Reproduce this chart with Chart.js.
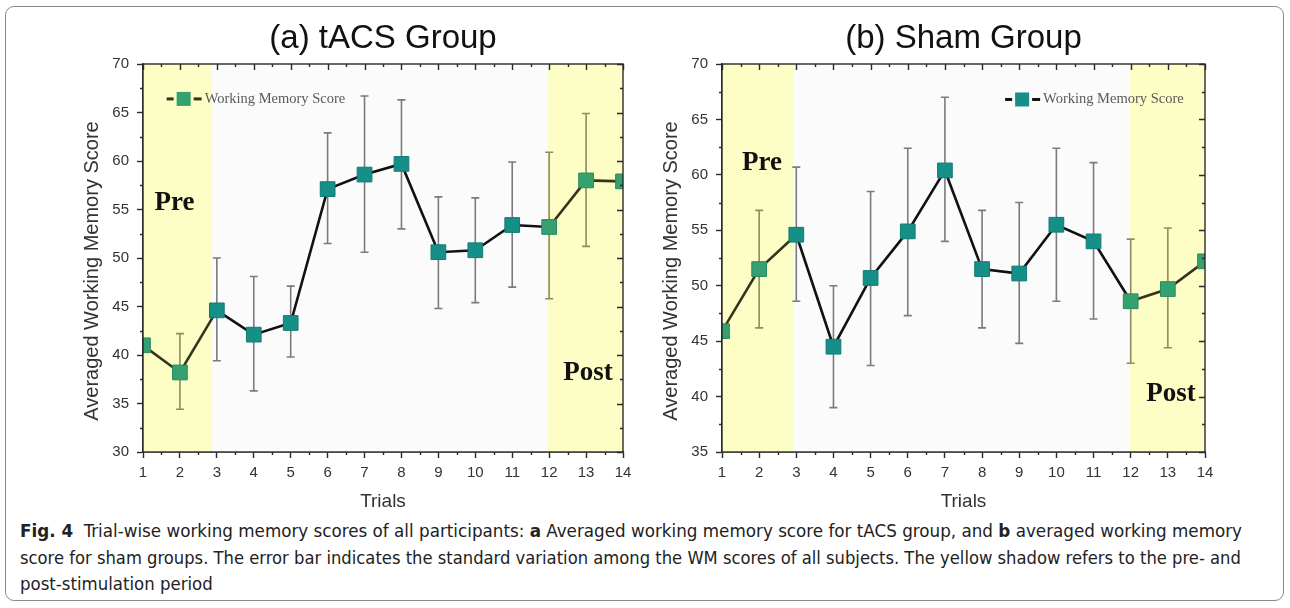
<!DOCTYPE html>
<html>
<head>
<meta charset="utf-8">
<script src="https://cdn.jsdelivr.net/npm/chart.js@4.4.0/dist/chart.umd.min.js"></script>
<style>
  body { margin:0; width:1290px; height:608px; overflow:hidden; background:#fff; position:relative; }
  .frame { position:absolute; left:5px; top:6px; width:1279px; height:595px; border:1px solid #8a8a8a; border-radius:9px; box-sizing:border-box; }
  canvas { position:absolute; top:0; }
  #chartA { left:0; }
  #chartB { left:645px; }
  .cap { position:absolute; left:20px; white-space:nowrap; font-family:"DejaVu Sans Condensed","Liberation Sans Narrow","DejaVu Sans",sans-serif;
         font-stretch:condensed; font-size:17.5px; line-height:20px; color:#222; transform-origin:0 50%; }
  .cap b { font-weight:bold; }
</style>
</head>
<body>
<div class="frame"></div>
<canvas id="chartA" width="645" height="520"></canvas>
<canvas id="chartB" width="645" height="520"></canvas>
<div class="cap" id="cap1" style="top:521px"><b>Fig. 4</b>&nbsp; Trial-wise working memory scores of all participants: <b>a</b> Averaged working memory score for tACS group, and <b>b</b> averaged working memory</div>
<div class="cap" id="cap2" style="top:548px">score for sham groups. The error bar indicates the standard variation among the WM scores of all subjects. The yellow shadow refers to the pre- and</div>
<div class="cap" id="cap3" style="top:574px">post-stimulation period</div>

<script>
// --- data
const trials = [1, 2, 3, 4, 5, 6, 7, 8, 9, 10, 11, 12, 13, 14];

const tacsMean  = [41.0, 38.2, 44.6, 42.1, 43.3, 57.1, 58.6, 59.7, 50.6, 50.8, 53.4, 53.2, 58.0, 57.9];
const tacsUpper = [null, 42.2, 50.0, 48.1, 47.1, 62.9, 66.7, 66.3, 56.3, 56.2, 59.9, 60.9, 64.9, null];
const tacsLower = [null, 34.4, 39.4, 36.3, 39.8, 51.5, 50.6, 53.0, 44.8, 45.4, 47.0, 45.8, 51.2, null];

const shamMean  = [45.9, 51.5, 54.6, 44.5, 50.7, 54.9, 60.4, 51.5, 51.1, 55.5, 54.0, 48.6, 49.7, 52.2];
const shamUpper = [null, 56.8, 60.7, 50.0, 58.5, 62.4, 67.0, 56.8, 57.5, 62.4, 61.1, 54.2, 55.2, null];
const shamLower = [null, 46.2, 48.6, 39.0, 42.8, 47.3, 54.0, 46.2, 44.8, 48.6, 47.0, 43.0, 44.4, null];

// pre / post stimulation periods (in trial units)
const tacsBands = [[1, 2.86], [11.95, 14]];
const shamBands = [[1, 2.93], [11.97, 14]];

const tacsYRange = [30, 70];
const shamYRange = [35, 70];
const yStep = 5;

const seriesLabel = 'Working Memory Score';

// --- colours
const TEAL = '#168f88', GREEN = '#35a070';
const LINE = '#111111', LINE_BAND = '#34341a';
const ERR = '#7b7b7b', ERR_BAND = '#8d8d5c';
const BAND = '#fdfdc6', PLOT_BG = '#fbfbfb', AXIS = '#2a2a2a';
const SANS = '"Liberation Sans", Arial, sans-serif';
const SERIF = '"Liberation Serif", "Times New Roman", serif';

function inBand(bands, x) { return bands.some(b => x >= b[0] && x <= b[1]); }

// --- plugin: background, shaded periods, error bars
const underlay = {
  id: 'underlay',
  beforeDatasetsDraw(chart, args, opts) {
    const { ctx, chartArea: a, scales: { x, y } } = chart;
    ctx.save();
    ctx.fillStyle = PLOT_BG;
    ctx.fillRect(a.left, a.top, a.width, a.height);
    ctx.fillStyle = BAND;
    opts.bands.forEach(b => {
      const x0 = x.getPixelForValue(b[0]), x1 = x.getPixelForValue(b[1]);
      ctx.fillRect(x0, a.top, x1 - x0, a.height);
    });
    ctx.lineWidth = 1.6;
    opts.upper.forEach((hi, i) => {
      const lo = opts.lower[i];
      if (hi == null || lo == null) return;
      const px = x.getPixelForValue(trials[i]);
      const py0 = y.getPixelForValue(hi), py1 = y.getPixelForValue(lo);
      ctx.strokeStyle = inBand(opts.bands, trials[i]) ? ERR_BAND : ERR;
      ctx.beginPath();
      ctx.moveTo(px, py0); ctx.lineTo(px, py1);
      ctx.moveTo(px - 4, py0); ctx.lineTo(px + 4, py0);
      ctx.moveTo(px - 4, py1); ctx.lineTo(px + 4, py1);
      ctx.stroke();
    });
    ctx.restore();
  }
};

// --- plugin: box frame, minor ticks, mirrored ticks, texts
const overlay = {
  id: 'overlay',
  afterDraw(chart, args, opts) {
    const { ctx, chartArea: a, scales: { x, y } } = chart;
    ctx.save();
    ctx.strokeStyle = AXIS;
    ctx.lineWidth = 1.4;
    ctx.strokeRect(a.left, a.top, a.width, a.height);

    ctx.beginPath();
    for (let v = x.min; v <= x.max + 1e-6; v += 0.5) {
      const px = Math.round(x.getPixelForValue(v)) + 0.5;
      const major = Math.abs(v - Math.round(v)) < 1e-6;
      const len = major ? 6 : 3;
      ctx.moveTo(px, a.top); ctx.lineTo(px, a.top + len);          // top, inward
      if (!major) { ctx.moveTo(px, a.bottom); ctx.lineTo(px, a.bottom + 3); }
    }
    for (let v = y.min; v <= y.max + 1e-6; v += yStep / 2) {
      const py = Math.round(y.getPixelForValue(v)) + 0.5;
      const major = Math.abs(v / yStep - Math.round(v / yStep)) < 1e-6;
      const len = major ? 6 : 3;
      ctx.moveTo(a.right, py); ctx.lineTo(a.right - len, py);      // right, inward
      if (!major) { ctx.moveTo(a.left, py); ctx.lineTo(a.left - 3, py); }
    }
    ctx.stroke();

    // panel title
    const cx = (a.left + a.right) / 2;
    ctx.fillStyle = '#111';
    ctx.textAlign = 'center';
    ctx.textBaseline = 'middle';
    ctx.font = '33px ' + SANS;
    ctx.fillText(opts.title, cx, 39);

    // axis titles
    ctx.fillStyle = '#333';
    ctx.font = '19px ' + SANS;
    ctx.fillText('Trials', cx, 502);
    ctx.save();
    ctx.translate(a.left - 51, (a.top + a.bottom) / 2 + 13);
    ctx.rotate(-Math.PI / 2);
    ctx.font = '20px ' + SANS;
    ctx.fillText('Averaged Working Memory Score', 0, 0);
    ctx.restore();

    // legend
    const lg = opts.legend;
    const lx = x.getPixelForValue(lg.x), ly = y.getPixelForValue(lg.y);
    const lgBand = inBand(opts.bands, lg.x);
    ctx.fillStyle = lgBand ? LINE_BAND : LINE;
    ctx.fillRect(lx, ly - 1.5, 7, 3);
    ctx.fillRect(lx + 27, ly - 1.5, 8, 3);
    ctx.fillStyle = lgBand ? GREEN : TEAL;
    ctx.fillRect(lx + 10, ly - 7, 14, 14);
    ctx.fillStyle = '#5a5a5a';
    ctx.textAlign = 'left';
    ctx.font = '14.5px ' + SERIF;
    ctx.fillText(seriesLabel, lx + 38, ly);

    // period labels
    ctx.fillStyle = '#111';
    ctx.font = 'bold 27px ' + SERIF;
    opts.marks.forEach(m => ctx.fillText(m.text, x.getPixelForValue(m.x), y.getPixelForValue(m.y)));
    ctx.restore();
  }
};

function makeChart(id, cfg) {
  const bands = cfg.bands;
  return new Chart(document.getElementById(id), {
    type: 'line',
    data: {
      datasets: [{
        label: seriesLabel,
        data: trials.map((t, i) => ({ x: t, y: cfg.mean[i] })),
        borderWidth: 2.6,
        borderColor: LINE,
        segment: {
          borderColor: c => inBand(bands, (c.p0.parsed.x + c.p1.parsed.x) / 2) ? LINE_BAND : LINE
        },
        pointStyle: 'rect',
        pointRadius: 10.4,
        pointBorderWidth: 1,
        pointBackgroundColor: c => inBand(bands, c.parsed.x) ? GREEN : TEAL,
        pointBorderColor: c => inBand(bands, c.parsed.x) ? '#2a8a5e' : '#117a74',
        tension: 0,
        clip: 0
      }]
    },
    options: {
      responsive: false,
      animation: false,
      layout: { padding: { left: 0, top: 64, right: cfg.padRight, bottom: 0 } },
      plugins: {
        legend: { display: false },
        tooltip: { enabled: false },
        underlay: { bands, upper: cfg.upper, lower: cfg.lower },
        overlay: { bands, title: cfg.title, legend: cfg.legend, marks: cfg.marks }
      },
      scales: {
        x: {
          type: 'linear', min: trials[0], max: trials[trials.length - 1],
          afterFit: s => { s.height = 68; },
          ticks: { stepSize: 1, color: '#333', padding: 6, font: { family: SANS, size: 15 } },
          grid: { drawOnChartArea: false, drawTicks: true, tickLength: 6, color: AXIS, tickWidth: 1.4 },
          border: { display: true, color: AXIS, width: 1.4 }
        },
        y: {
          min: cfg.yRange[0], max: cfg.yRange[1],
          afterFit: s => { s.width = cfg.axisLeft; },
          ticks: { stepSize: yStep, color: '#333', padding: 8, font: { family: SANS, size: 15 } },
          grid: { drawOnChartArea: false, drawTicks: true, tickLength: 6, color: AXIS, tickWidth: 1.4 },
          border: { display: true, color: AXIS, width: 1.4 }
        }
      }
    },
    plugins: [underlay, overlay]
  });
}

makeChart('chartA', {
  mean: tacsMean, upper: tacsUpper, lower: tacsLower, bands: tacsBands, yRange: tacsYRange,
  title: '(a) tACS Group', axisLeft: 143, padRight: 22,
  legend: { x: 1.64, y: 66.4 },
  marks: [{ text: 'Pre', x: 1.31, y: 55.7 }, { text: 'Post', x: 12.38, y: 38.1 }]
});

makeChart('chartB', {
  mean: shamMean, upper: shamUpper, lower: shamLower, bands: shamBands, yRange: shamYRange,
  title: '(b) Sham Group', axisLeft: 77, padRight: 85,
  legend: { x: 8.62, y: 66.8 },
  marks: [{ text: 'Pre', x: 1.54, y: 61.1 }, { text: 'Post', x: 12.42, y: 40.2 }]
});

// --- caption: stretch lines to the printed widths
function fitCaption() {
  const l1 = document.getElementById('cap1'), l2 = document.getElementById('cap2'), l3 = document.getElementById('cap3');
  const s1 = 1222 / l1.scrollWidth, s2 = 1221 / l2.scrollWidth;
  l1.style.transform = `scaleX(${s1})`;
  l2.style.transform = `scaleX(${s2})`;
  l3.style.transform = `scaleX(${(s1 + s2) / 2})`;
}
fitCaption();
</script>
</body>
</html>
